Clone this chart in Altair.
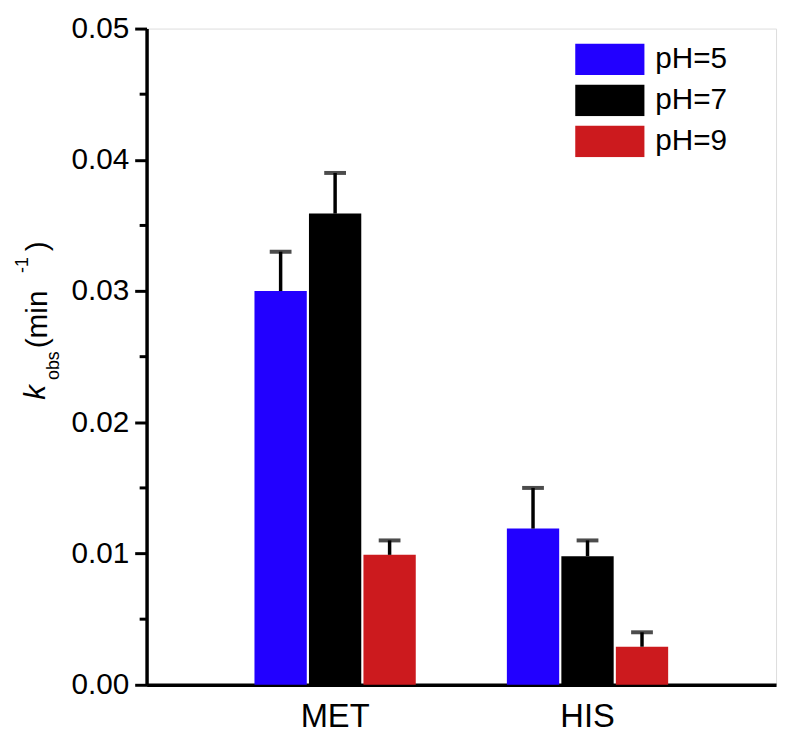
import altair as alt
import pandas as pd

categories = ["MET", "HIS"]
groups = ["pH=5", "pH=7", "pH=9"]
met_vals = [0.0300, 0.0359, 0.0099]
met_errs = [0.0030, 0.0031, 0.0011]
his_vals = [0.0119, 0.0098, 0.0029]
his_errs = [0.0031, 0.0012, 0.0011]
colors = ["#2200FF", "#000000", "#CC1A1E"]
major_ticks = [0.0, 0.01, 0.02, 0.03, 0.04, 0.05]
minor_ticks = [0.005, 0.015, 0.025, 0.035, 0.045]

FONT = "Liberation Sans"

rows = []
for cat, vals, errs in [("MET", met_vals, met_errs), ("HIS", his_vals, his_errs)]:
    for g, v, e in zip(groups, vals, errs):
        rows.append({"cat": cat, "ph": g, "val": v, "upper": v + e})
df = pd.DataFrame(rows)

x_enc = alt.X("cat:N", sort=categories,
              scale=alt.Scale(paddingInner=0.361, paddingOuter=0.4275),
              axis=alt.Axis(title=None, labelAngle=0, ticks=False, labelFontSize=33,
                            labelPadding=16, domainWidth=3.5, domainColor="black",
                            labelColor="black", labelFont=FONT))
xo_enc = alt.XOffset("ph:N", sort=groups,
                     scale=alt.Scale(paddingInner=0.04, paddingOuter=0))
y_scale = alt.Scale(domain=[0, 0.05], nice=False)

bars = alt.Chart(df).mark_bar().encode(
    x=x_enc,
    xOffset=xo_enc,
    y=alt.Y("val:Q", scale=y_scale,
            axis=alt.Axis(values=major_ticks, format=".2f", title=None, grid=False,
                          tickSize=12, tickWidth=3, tickColor="black",
                          domainWidth=3.5, domainColor="black",
                          labelFontSize=30, labelPadding=6, labelColor="black",
                          labelFont=FONT)),
    color=alt.Color("ph:N", sort=groups,
                    scale=alt.Scale(domain=groups, range=colors),
                    legend=alt.Legend(orient="none", legendX=433, legendY=15, title=None,
                                      symbolType="M-1,-0.4571H1V0.4571H-1Z",
                                      symbolSize=4900, symbolStrokeWidth=0,
                                      symbolOpacity=1, labelFontSize=30,
                                      labelFont=FONT, labelColor="black",
                                      labelOffset=11, rowPadding=9.5,
                                      clipHeight=32, padding=0)),
)

err = alt.Chart(df).mark_rule(color="black", strokeWidth=3.5).encode(
    x=x_enc, xOffset=xo_enc,
    y=alt.Y("val:Q", scale=y_scale), y2="upper:Q",
)
caps = alt.Chart(df).mark_tick(color="black", thickness=4, size=22).encode(
    x=x_enc, xOffset=xo_enc,
    y=alt.Y("upper:Q", scale=y_scale),
)

minor = alt.Chart(pd.DataFrame({"t": minor_ticks})).mark_rule(
    color="black", strokeWidth=3).encode(
    y=alt.Y("t:Q", scale=y_scale), x=alt.value(-7), x2=alt.value(0))

def title_part(txt, size, xpos, ypos, italic=False):
    props = dict(text=txt, fontSize=size, font=FONT, angle=270, align="left",
                 baseline="alphabetic", color="black")
    if italic:
        props["fontStyle"] = "italic"
    return alt.Chart(pd.DataFrame({"t": [txt]})).mark_text(**props).encode(
        x=alt.value(xpos), y=alt.value(ypos))

title_layers = [
    title_part("k", 30, -103, 375, italic=True),
    title_part("obs", 18, -88, 355),
    title_part("(min", 30, -101, 323),
    title_part("-1", 18, -120, 247),
    title_part(")", 30, -101, 225),
]

chart = alt.layer(bars, err, caps, minor, *title_layers).properties(
    width=636, height=663,
    autosize=alt.AutoSizeParams(type="none"),
    padding={"left": 140, "top": 17, "right": 6, "bottom": 52},
).configure_view(stroke="black", strokeWidth=3.5).configure(background="white")

chart.save("out.html", embed_options={"renderer": "svg", "actions": False})
